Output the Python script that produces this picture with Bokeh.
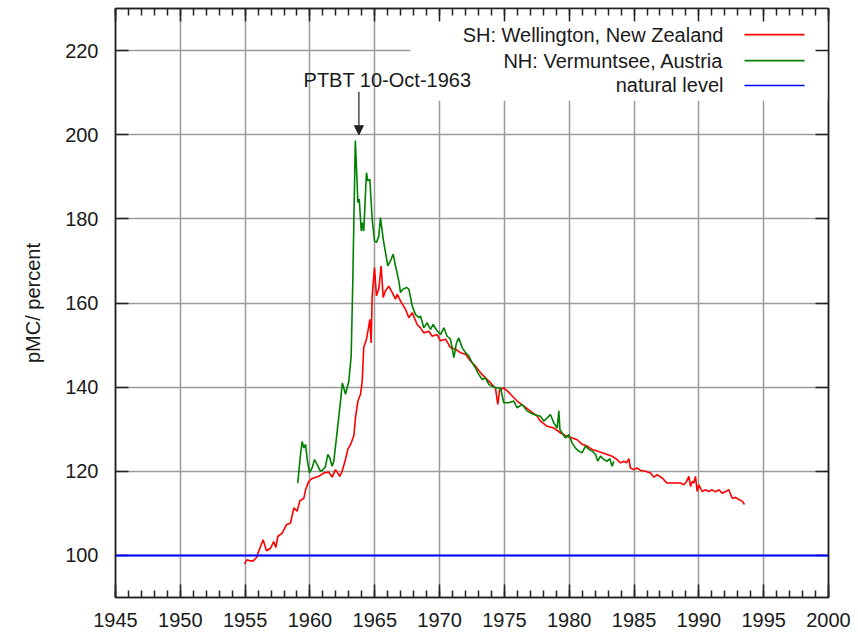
from bokeh.plotting import figure
from bokeh.models import (Range1d, SingleIntervalTicker, LinearAxis, Span, Label,
                          Arrow, NormalHead, BoxAnnotation, ColumnDataSource,
                          CustomLabelingPolicy)
from bokeh.embed import file_html
from bokeh.resources import INLINE

# ---- data ----
sh_year = [1954.95, 1955.16, 1955.36, 1955.62, 1955.88, 1956.13, 1956.39, 1956.65, 1956.96, 1957.2,
           1957.37, 1957.52, 1957.86, 1958.19, 1958.5, 1958.76, 1959.01, 1959.22, 1959.53, 1959.66,
           1959.91, 1960.17, 1960.68, 1961.07, 1961.45, 1961.71, 1961.97, 1962.1, 1962.3, 1962.48,
           1962.74, 1962.92, 1963.18, 1963.39, 1963.52, 1963.7, 1963.9, 1964.03, 1964.15, 1964.36,
           1964.54, 1964.62, 1964.72, 1964.8, 1964.98, 1965.13, 1965.31, 1965.49, 1965.65, 1965.83,
           1966.08, 1966.34, 1966.6, 1966.73, 1966.98, 1967.37, 1967.63, 1967.89, 1968.27, 1968.53,
           1968.78, 1969.17, 1969.43, 1969.81, 1970.07, 1970.46, 1970.84, 1971.23, 1971.61, 1972.0,
           1972.38, 1972.77, 1973.16, 1973.54, 1973.93, 1974.31, 1974.49, 1974.64, 1974.95, 1975.26,
           1975.6, 1975.98, 1976.5, 1977.01, 1977.53, 1977.78, 1978.3, 1978.81, 1979.33, 1979.84,
           1980.23, 1980.61, 1981.0, 1981.38, 1981.77, 1982.15, 1982.54, 1982.93, 1983.31, 1983.69,
           1983.95, 1984.21, 1984.42, 1984.6, 1984.72, 1984.98, 1985.24, 1985.5, 1985.88, 1986.27,
           1986.53, 1986.78, 1987.17, 1987.35, 1987.56, 1988.07, 1988.59, 1988.84, 1989.05, 1989.23,
           1989.36, 1989.49, 1989.61, 1989.74, 1989.87, 1990.0, 1990.25, 1990.51, 1990.77, 1991.03,
           1991.28, 1991.54, 1991.8, 1992.06, 1992.31, 1992.57, 1992.83, 1993.08, 1993.34, 1993.52]
sh_pmc = [98.0, 99.0, 98.7, 98.7, 99.5, 101.7, 103.7, 101.1, 101.7, 103.3,
          101.9, 104.5, 105.3, 107.3, 107.7, 111.3, 110.5, 113.0, 113.6, 115.6,
          117.6, 118.3, 118.8, 119.6, 119.8, 118.6, 120.4, 119.8, 118.8, 120.0,
          122.8, 125.2, 126.7, 128.5, 133.0, 136.7, 138.3, 141.4, 149.4, 151.4,
          154.5, 156.1, 150.5, 161.7, 168.4, 161.7, 163.3, 168.8, 161.3, 162.9,
          164.0, 162.5, 160.9, 162.1, 160.5, 158.5, 156.5, 157.7, 154.9, 154.1,
          152.9, 153.3, 152.1, 152.5, 151.0, 151.4, 149.4, 149.0, 148.2, 147.8,
          146.2, 145.0, 143.4, 142.2, 141.0, 139.8, 135.9, 139.4, 139.8, 139.0,
          137.9, 136.7, 135.5, 134.3, 133.1, 131.9, 130.7, 130.3, 129.1, 128.3,
          127.9, 127.5, 126.4, 126.0, 125.2, 124.8, 124.4, 124.0, 123.6, 122.8,
          122.0, 122.4, 122.0, 123.0, 120.8, 120.4, 120.8, 120.2, 120.0, 119.6,
          118.6, 119.2, 118.4, 117.8, 117.2, 117.2, 117.2, 116.8, 117.6, 118.8,
          116.4, 117.6, 117.2, 118.8, 115.2, 116.8, 115.2, 115.6, 115.2, 115.6,
          115.1, 115.6, 114.8, 115.2, 115.6, 113.6, 113.8, 113.3, 112.9, 112.1]

nh_year = [1959.06, 1959.27, 1959.4, 1959.53, 1959.66, 1959.79, 1959.96, 1960.17, 1960.35, 1960.56,
           1960.81, 1961.02, 1961.2, 1961.38, 1961.53, 1961.71, 1961.84, 1962.1, 1962.36, 1962.5,
           1962.61, 1962.74, 1963.0, 1963.18, 1963.3, 1963.5, 1963.7, 1963.8, 1963.96, 1964.06,
           1964.15, 1964.36, 1964.46, 1964.62, 1964.8, 1964.98, 1965.13, 1965.31, 1965.44, 1965.65,
           1965.83, 1966.01, 1966.21, 1966.42, 1966.6, 1966.86, 1966.98, 1967.19, 1967.45, 1967.63,
           1967.89, 1968.14, 1968.4, 1968.53, 1968.78, 1969.04, 1969.3, 1969.5, 1969.76, 1970.07,
           1970.33, 1970.58, 1970.84, 1971.1, 1971.3, 1971.48, 1971.74, 1972.0, 1972.26, 1972.51,
           1972.77, 1973.03, 1973.29, 1973.54, 1973.8, 1974.06, 1974.39, 1974.7, 1974.95, 1975.34,
           1975.72, 1975.98, 1976.37, 1976.75, 1977.27, 1977.78, 1978.04, 1978.3, 1978.55, 1978.81,
           1979.07, 1979.2, 1979.28, 1979.46, 1979.71, 1979.97, 1980.23, 1980.48, 1980.74, 1981.0,
           1981.25, 1981.51, 1981.77, 1982.03, 1982.2, 1982.41, 1982.67, 1982.93, 1983.13, 1983.31,
           1983.44]
nh_pmc = [117.2, 124.0, 127.1, 125.5, 126.4, 122.8, 119.6, 120.8, 122.8, 121.6,
          120.0, 120.4, 121.2, 124.0, 123.2, 121.2, 122.4, 129.5, 136.7, 141.0,
          139.8, 138.3, 141.4, 147.4, 164.5, 198.6, 183.9, 184.7, 177.1, 179.1,
          177.1, 191.0, 189.0, 189.4, 179.9, 174.8, 174.4, 175.9, 180.3, 175.2,
          172.0, 168.8, 170.0, 171.6, 168.8, 165.2, 162.5, 163.3, 163.7, 163.3,
          159.3, 157.3, 156.5, 156.9, 154.1, 155.3, 153.7, 154.9, 153.6, 152.5,
          154.1, 152.1, 151.4, 147.0, 150.5, 151.7, 149.4, 148.2, 147.4, 145.8,
          144.6, 143.0, 141.8, 142.2, 140.6, 140.2, 139.8, 139.8, 136.3, 136.3,
          136.7, 135.1, 135.9, 134.3, 133.5, 133.1, 131.9, 132.7, 133.5, 131.5,
          130.3, 134.4, 129.9, 129.1, 127.9, 128.7, 126.7, 125.5, 124.8, 124.4,
          126.0, 125.2, 124.8, 124.0, 122.4, 123.6, 122.8, 122.4, 123.0, 121.2,
          122.4]

natural_level = 100
ptbt_year = 1963.775  # 10-Oct-1963
series_labels = ["SH: Wellington, New Zealand", "NH: Vermuntsee, Austria", "natural level"]
series_colors = ["#ff0000", "#008000", "#0000ff"]

FONT = "Liberation Sans"
TXT = "#1a1a1a"
FS = "20px"

p = figure(width=858, height=633, output_backend="svg", toolbar_location=None,
           x_range=Range1d(1945, 2000), y_range=Range1d(90, 230),
           min_border_left=115, min_border_right=30, min_border_top=8, min_border_bottom=36,
           x_axis_location=None, y_axis_location=None)
p.background_fill_color = "white"
p.border_fill_color = "white"
p.outline_line_color = "#222222"
p.outline_line_width = 1.5

xt = SingleIntervalTicker(interval=5, num_minor_ticks=5)
yt = SingleIntervalTicker(interval=20, num_minor_ticks=0)

no_labels = CustomLabelingPolicy(code="""
for (let i = 0; i < indices.size; i++) { indices.unset(i) }
return indices
""")

def style_axis(ax, labels=True):
    ax.axis_line_color = "#222222"
    ax.axis_line_width = 1.5
    ax.major_tick_line_color = "#222222"
    ax.major_tick_line_width = 1.5
    ax.minor_tick_line_color = "#222222"
    ax.minor_tick_line_width = 1.5
    ax.major_tick_in = 13
    ax.major_tick_out = 0
    ax.minor_tick_in = 7
    ax.minor_tick_out = 0
    ax.major_label_text_font = FONT
    ax.major_label_text_color = TXT
    if labels:
        ax.major_label_text_font_size = FS
    else:
        # frame-mirror axes: ticks only, no labels drawn and no space reserved
        ax.major_label_text_font_size = "0px"
        ax.major_label_policy = no_labels
        ax.major_label_standoff = 0

bottom = LinearAxis(ticker=xt)
style_axis(bottom)
bottom.major_label_standoff = 15
p.add_layout(bottom, "below")

top = LinearAxis(ticker=xt)
style_axis(top, labels=False)
p.add_layout(top, "above")

left = LinearAxis(ticker=yt, axis_label="pMC/ percent")
style_axis(left)
left.major_label_standoff = 17
left.axis_label_text_font = FONT
left.axis_label_text_font_size = FS
left.axis_label_text_font_style = "normal"
left.axis_label_text_color = TXT
left.axis_label_standoff = 18
p.add_layout(left, "left")

right = LinearAxis(ticker=yt)
style_axis(right, labels=False)
p.add_layout(right, "right")

p.xgrid.ticker = xt
p.ygrid.ticker = yt
for g in (p.xgrid, p.ygrid):
    g.grid_line_color = "#9a9a9a"
    g.grid_line_width = 1.5

# legend background (hides grid lines behind the key)
p.add_layout(BoxAnnotation(left=1967.75, right=2000, bottom=208.1, top=230,
                           fill_color="white", fill_alpha=1.0, line_color=None,
                           level="underlay"))

# natural level
p.add_layout(Span(location=natural_level, dimension="width",
                  line_color=series_colors[2], line_width=2))

sh = ColumnDataSource(dict(x=sh_year, y=sh_pmc))
nh = ColumnDataSource(dict(x=nh_year, y=nh_pmc))
p.line("x", "y", source=sh, line_color=series_colors[0], line_width=1.6)
p.line("x", "y", source=nh, line_color=series_colors[1], line_width=1.6)

# PTBT annotation
p.add_layout(Arrow(end=NormalHead(size=9, fill_color="#222222", line_color="#222222"),
                   x_start=ptbt_year, y_start=210.2, x_end=ptbt_year, y_end=200,
                   line_color="#222222", line_width=1.2))
p.add_layout(Label(x=1965.98, y=212.9, text="PTBT 10-Oct-1963", text_align="center",
                   text_baseline="middle", text_font=FONT, text_font_size=FS,
                   text_color=TXT))

# key
key_y = [223.8, 217.6, 211.7]
for lab, col, ky in zip(series_labels, series_colors, key_y):
    p.add_layout(Label(x=1991.9, y=ky, text=lab, text_align="right", text_baseline="middle",
                       text_font=FONT, text_font_size=FS, text_color=TXT))
    p.add_layout(Arrow(start=None, end=None, x_start=1993.52, y_start=ky,
                       x_end=1998.15, y_end=ky, line_color=col, line_width=1.6))

open("out.html", "w").write(file_html(p, INLINE))
